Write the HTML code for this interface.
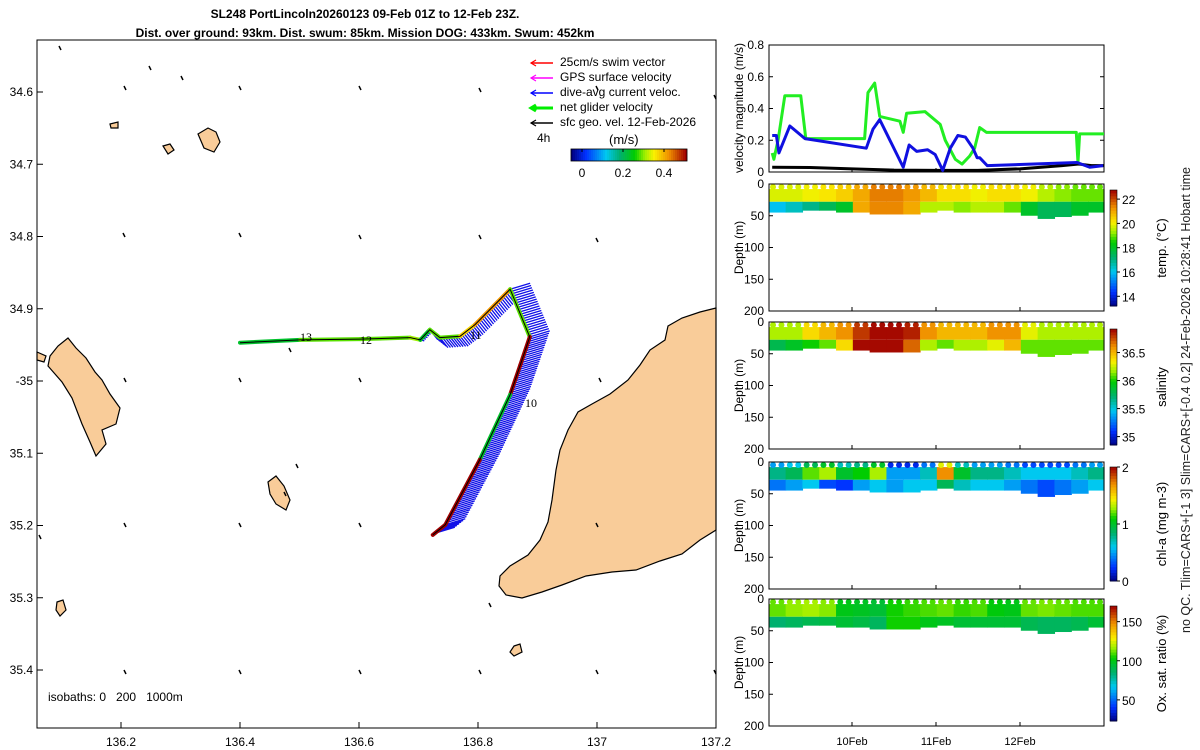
<!DOCTYPE html>
<html><head><meta charset="utf-8"><style>
body{margin:0;background:#fff;}
svg{display:block;font-family:"Liberation Sans","DejaVu Sans",sans-serif;}
</style></head><body>
<svg id="s" width="1200" height="750" viewBox="0 0 1200 750">
<text x="365" y="18" font-size="12" font-weight="bold" text-anchor="middle">SL248 PortLincoln20260123 09-Feb 01Z to 12-Feb 23Z.</text>
<text x="365" y="37" font-size="12" font-weight="bold" text-anchor="middle">Dist. over ground: 93km. Dist. swum: 85km. Mission DOG: 433km. Swum: 452km</text>
<g id="map"></g>
<g id="vel"></g>
<g id="sec"></g>
<text transform="translate(1190,400) rotate(-90)" font-size="12.5" text-anchor="middle" fill="#222">no QC. Tlim=CARS+[-1 3] Slim=CARS+[-0.4 0.2] 24-Feb-2026 10:28:41 Hobart time</text>
</svg>
<script>
const NS="http://www.w3.org/2000/svg";
function mk(p,t,a){const e=document.createElementNS(NS,t);for(const k in a)e.setAttribute(k,a[k]);p.appendChild(e);return e;}
function jet(f){f=Math.max(0,Math.min(1,f));const st=[[0,[0,0,128]],[0.12,[0,48,255]],[0.3,[0,200,240]],[0.42,[0,176,112]],[0.55,[0,204,0]],[0.64,[160,240,0]],[0.72,[250,240,0]],[0.85,[240,144,0]],[1,[160,0,0]]];
for(let i=1;i<st.length;i++){if(f<=st[i][0]){const a=st[i-1],b=st[i],u=(f-a[0])/(b[0]-a[0]);return "rgb("+a[1].map((v,j)=>Math.round(v+(b[1][j]-v)*u)).join(",")+")";}}return "rgb(160,0,0)";}

/* ---------- MAP ---------- */
const mapLonTicks=[136.2,136.4,136.6,136.8,137,137.2];
const mapLatTicks=[34.6,34.7,34.8,34.9,35,35.1,35.2,35.3,35.4];
const trackLon=[136.4,136.501,136.602,136.686,136.703,136.719,136.736,136.770,136.795,136.854,136.887,136.871,136.854,136.803,136.745,136.724];
const trackLat=[34.947,34.943,34.942,34.940,34.943,34.929,34.940,34.938,34.922,34.873,34.939,34.978,35.019,35.109,35.199,35.213];
const trackSpeed=[0.25,0.3,0.3,0.32,0.25,0.3,0.3,0.38,0.42,0.3,0.5,0.5,0.25,0.5,0.5,0.2];
const lx=l=>240+(l-136.4)*595, ly=l=>92+(l-34.6)*722.5;
const M=document.getElementById('map');
const landPolys=[
"716,308 700,312 682,318 668,326 665,340 650,350 640,365 628,380 610,394 592,404 578,412 568,430 560,450 556,470 552,500 548,522 540,540 528,555 510,566 500,576 499,586 506,595 522,598 542,592 562,585 586,576 612,572 636,570 660,561 682,554 700,540 716,530",
"50,356 58,346 68,338 76,348 86,358 95,372 102,380 110,394 120,408 116,424 102,430 106,444 96,456 90,442 82,424 72,398 62,382 48,366",
"37,352 46,356 44,362 37,360",
"268,482 276,476 284,486 290,500 286,510 276,504 270,494",
"198,134 208,128 216,132 220,142 214,152 204,148",
"163,146 170,144 174,150 168,154",
"110,124 118,122 118,128 111,128",
"514,646 520,644 522,652 514,656 510,652",
"57,602 63,600 66,610 60,616 56,610"];
landPolys.forEach((p,i)=>{const e=mk(M,'polygon',{points:p,fill:'#f9cc99',stroke:'#000','stroke-width':1.2});

});
const marks=[[125,88],[240,88],[360,88],[480,90],[597,88],[715,97],[124,235],[240,235],[360,237],[480,237],[597,240],[125,380],[240,380],[360,380],[600,380],[125,525],[240,525],[360,525],[597,525],[125,672],[240,672],[360,672],[480,672],[597,672],[715,672],[150,68],[182,78],[60,48],[490,605],[297,466],[285,494],[40,537],[290,350]];
marks.forEach(m=>{const e=mk(M,'path',{d:`M${m[0]-1},${m[1]-2}L${m[0]+1},${m[1]+2}`,stroke:'#000','stroke-width':1.5});

});
for(let i=0;i<trackLon.length-1;i++){
 const x0=lx(trackLon[i]),y0=ly(trackLat[i]),x1=lx(trackLon[i+1]),y1=ly(trackLat[i+1]);
 const n=Math.max(2,Math.round(Math.hypot(x1-x0,y1-y0)/2.5));
 const dx=i>=9?20:(i>=5?8:4), dy=i>=9?-6:(i>=5?10:1);
 for(let k=0;k<n;k++){const u=k/n,x=x0+(x1-x0)*u,y=y0+(y1-y0)*u;
  const e=mk(M,'line',{x1:x,y1:y,x2:x+dx,y2:y+dy,stroke:'#1010e8','stroke-width':1.3});
  
  }
}
for(let i=0;i<trackLon.length-1;i++){
 const e=mk(M,'line',{x1:lx(trackLon[i]),y1:ly(trackLat[i]),x2:lx(trackLon[i+1]),y2:ly(trackLat[i+1]),stroke:jet(trackSpeed[i]/0.5),'stroke-width':4,'stroke-linecap':'round'});
 
 
}
mk(M,'polyline',{points:trackLon.map((l,i)=>lx(l)+','+ly(trackLat[i])).join(' '),fill:'none',stroke:'#000','stroke-width':1});
[["13",300,341],["12",360,344],["11",470,339],["10",525,407]].forEach(t=>{const e=mk(M,'text',{x:t[1],y:t[2],'font-size':12,'font-family':'Liberation Serif'});e.textContent=t[0];

});
mk(M,'rect',{x:37,y:40,width:679,height:688,fill:'none',stroke:'#000','stroke-width':1});
mapLonTicks.forEach(l=>{const x=lx(l);mk(M,'line',{x1:x,y1:728,x2:x,y2:722,stroke:'#000'});
 const t=mk(M,'text',{x:x,y:746,'font-size':12,'text-anchor':'middle'});t.textContent=String(l);
 
 });
mapLatTicks.forEach(l=>{const y=ly(l);mk(M,'line',{x1:37,y1:y,x2:43,y2:y,stroke:'#000'});
 const t=mk(M,'text',{x:33,y:y+4,'font-size':12,'text-anchor':'end'});t.textContent=(l===35?'-35':(l.toFixed(1)));
 
 });
{const t=mk(M,'text',{x:48,y:701,'font-size':12,style:'white-space:pre'});t.textContent='isobaths: 0   200   1000m';

}
const legItems=[["25cm/s swim vector","#f00"],["GPS surface velocity","#f0f"],["dive-avg current veloc.","#00f"],["net glider velocity","#0e0"],["sfc geo. vel. 12-Feb-2026","#000"]];
legItems.forEach((it,i)=>{const y=62+i*15;
 mk(M,'line',{x1:531,y1:y+1,x2:553,y2:y+1,stroke:it[1],'stroke-width':i===3?3:1.5});
 mk(M,'path',{d:`M536,${y-2}L531,${y+1}L536,${y+4}`,fill:'none',stroke:it[1],'stroke-width':i===3?3:1.2});
 const t=mk(M,'text',{x:560,y:y+4,'font-size':12});t.textContent=it[0];
 
 });
{let t=mk(M,'text',{x:537,y:142,'font-size':12});t.textContent='4h';


t=mk(M,'text',{x:609,y:144,'font-size':13});t.textContent='(m/s)';

}
const speedTicks=[0,0.2,0.4];
for(let k=0;k<58;k++){mk(M,'rect',{x:571+k*2,y:149,width:2.2,height:12,fill:jet(k/57)});}
mk(M,'rect',{x:571,y:149,width:116,height:12,fill:'none',stroke:'#000','stroke-width':0.8});
speedTicks.forEach(v=>{const xx=582+v*205;
 mk(M,'line',{x1:xx,y1:149,x2:xx,y2:152,stroke:'#000'});
 const t=mk(M,'text',{x:xx,y:177,'font-size':12,'text-anchor':'middle'});t.textContent=String(v);
 
 });

/* ---------- VELOCITY ---------- */
const netDays=[9.05,9.07,9.12,9.20,9.39,9.45,10.15,10.19,10.27,10.33,10.57,10.61,10.65,10.87,11.05,11.11,11.23,11.31,11.40,11.46,11.52,11.60,12.67,12.69,12.71,13.0];
const netVel=[0.12,0.08,0.2,0.48,0.48,0.21,0.21,0.5,0.56,0.35,0.32,0.25,0.37,0.38,0.3,0.2,0.08,0.05,0.1,0.15,0.28,0.25,0.25,0.06,0.24,0.24];
const curDays=[9.05,9.10,9.13,9.26,9.44,10.17,10.25,10.33,10.61,10.68,10.77,10.90,10.99,11.08,11.17,11.26,11.35,11.44,11.49,11.52,11.61,12.68,12.83,12.99];
const curVel=[0.23,0.23,0.12,0.29,0.21,0.15,0.27,0.33,0.03,0.17,0.13,0.14,0.11,0.01,0.15,0.23,0.22,0.15,0.09,0.09,0.04,0.06,0.03,0.04];
const geoDays=[9.05,9.5,10.0,10.5,11.0,11.5,12.0,12.5,12.7,12.85,13.0];
const geoVel=[0.03,0.028,0.02,0.012,0.01,0.01,0.02,0.04,0.05,0.04,0.04];
const velTicks=[0,0.2,0.4,0.6,0.8];
const dayTicks=[10,11,12], dayLabels=["10Feb","11Feb","12Feb"];
const tx=d=>852+(d-10)*84;
const V=document.getElementById('vel');
const vy=v=>172-v/0.8*127;
mk(V,'rect',{x:769,y:45,width:335,height:127,fill:'none',stroke:'#000'});
velTicks.forEach(v=>{mk(V,'line',{x1:769,y1:vy(v),x2:773,y2:vy(v),stroke:'#000'});mk(V,'line',{x1:1104,y1:vy(v),x2:1100,y2:vy(v),stroke:'#000'});
 const t=mk(V,'text',{x:764,y:vy(v)+4,'font-size':12,'text-anchor':'end'});t.textContent=String(v);
 
 });
dayTicks.forEach(d=>{mk(V,'line',{x1:tx(d),y1:172,x2:tx(d),y2:168,stroke:'#000'});});
{const t=mk(V,'text',{transform:'translate(743,108) rotate(-90)','font-size':12,'text-anchor':'middle'});t.textContent='velocity magnitude (m/s)';

}
[[geoDays,geoVel,'#000','geo-velocity-line'],[netDays,netVel,'#22ee22','net-velocity-line'],[curDays,curVel,'#1010e0','current-velocity-line']].forEach(s=>{
 const e=mk(V,'polyline',{points:s[0].map((d,i)=>tx(d)+','+vy(s[1][i])).join(' '),fill:'none',stroke:s[2],'stroke-width':3,'stroke-linejoin':'round'});
 
 });

/* ---------- SECTIONS ---------- */
const binEdges=[9.01,9.21,9.41,9.61,9.81,10.01,10.21,10.41,10.61,10.81,11.01,11.21,11.41,11.61,11.81,12.01,12.21,12.41,12.61,12.81,13.0];
const bottomDepth=[45,45,42,42,45,45,48,48,48,45,42,45,45,45,45,50,55,52,50,45];
const tempSurf=[19.8,19.8,20,20.2,20.5,21,21.5,21.5,21.2,20.8,20.3,20.3,20,20.3,20.3,20,19.5,19.2,19,19];
const tempDeep=[16,16.5,17,17.5,18,21,21.4,21.4,21,19.5,19.5,19.2,19.5,19.5,19,18,17.5,17.5,18,18];
const salSurf=[36.2,36.2,36.4,36.5,36.6,36.8,36.9,36.9,36.85,36.6,36.5,36.5,36.5,36.6,36.6,36.3,36.2,36.2,36.2,36.2];
const salDeep=[35.8,35.9,36,36.1,36.4,36.9,36.9,36.9,36.7,36.2,36.1,36.2,36.2,36.3,36.5,36.1,36.1,36.1,36.1,36.1];
const chlSurf=[0.8,0.9,1.2,1.3,1.0,1.1,1.3,0.5,0.5,0.7,1.7,1.0,0.8,0.8,0.7,0.6,0.6,0.6,0.7,0.8];
const chlDeep=[0.4,0.5,0.6,0.3,0.25,0.5,0.6,0.5,0.6,0.6,0.9,0.7,0.6,0.6,0.5,0.4,0.3,0.4,0.5,0.6];
const oxSurf=[112,116,118,115,100,98,95,105,108,110,112,108,110,102,100,112,114,112,110,110];
const oxDeep=[85,88,90,92,95,92,88,105,105,100,98,95,95,95,95,90,88,88,90,95];
const depthTicks=[0,50,100,150,200];
const tempTicks=[14,16,18,20,22], salTicks=[35,35.5,36,36.5], chlTicks=[0,1,2], oxTicks=[50,100,150];
const panels=[
 {top:184,name:'temp',surf:tempSurf,deep:tempDeep,lo:13.2,hi:22.75,ticks:tempTicks,label:'temp. (°C)',cb:[190,306]},
 {top:322,name:'salinity',surf:salSurf,deep:salDeep,lo:34.85,hi:36.92,ticks:salTicks,label:'salinity',cb:[329,445]},
 {top:462,name:'chl',surf:chlSurf,deep:chlDeep,lo:0,hi:2,ticks:chlTicks,label:'chl-a (mg m-3)',cb:[467,581]},
 {top:599,name:'oxygen',surf:oxSurf,deep:oxDeep,lo:23,hi:170,ticks:oxTicks,label:'Ox. sat. ratio (%)',cb:[606,721]}];
const S=document.getElementById('sec');
panels.forEach((p,pi)=>{
 const H=127, dy=d=>p.top+d/200*H, f=v=>(v-p.lo)/(p.hi-p.lo);
 const g=mk(S,'g',{});
 
 
 for(let i=0;i<p.surf.length;i++){
  const x0=tx(binEdges[i]),x1=tx(binEdges[i+1]);
  mk(g,'rect',{x:x0,y:dy(8),width:x1-x0+0.6,height:dy(28)-dy(8),fill:jet(f(p.surf[i]))});
  mk(g,'rect',{x:x0,y:dy(28),width:x1-x0+0.6,height:dy(bottomDepth[i])-dy(28),fill:jet(f(p.deep[i]))});
 }
 for(let i=0;i<p.surf.length;i++){
  const x0=tx(binEdges[i]),x1=tx(binEdges[i+1]);
  [0.25,0.75].forEach(u=>{const c=mk(g,'circle',{cx:x0+(x1-x0)*u,cy:p.top+3,r:3,fill:jet(f(p.surf[i]+(pi==2?-0.3:0)))});
   
   });
 }
 mk(g,'rect',{x:769,y:p.top,width:335,height:H,fill:'none',stroke:'#000'});
 depthTicks.forEach(d=>{mk(g,'line',{x1:769,y1:dy(d),x2:773,y2:dy(d),stroke:'#000'});
  const t=mk(g,'text',{x:764,y:dy(d)+4,'font-size':12,'text-anchor':'end'});t.textContent=String(d);
  
  });
 dayTicks.forEach(d=>{mk(g,'line',{x1:tx(d),y1:p.top+H,x2:tx(d),y2:p.top+H-4,stroke:'#000'});});
 {const t=mk(g,'text',{transform:`translate(743,${p.top+H/2}) rotate(-90)`,'font-size':12,'text-anchor':'middle'});t.textContent='Depth (m)';
  
  }
 const c0=p.cb[0],c1=p.cb[1],n=40;
 for(let k=0;k<n;k++){mk(g,'rect',{x:1110,y:c1-(k+1)*(c1-c0)/n,width:7,height:(c1-c0)/n+0.5,fill:jet((k+0.5)/n)});}
 mk(g,'rect',{x:1110,y:c0,width:7,height:c1-c0,fill:'none',stroke:'#000','stroke-width':0.6});
 const cy=v=>c1-(v-p.lo)/(p.hi-p.lo)*(c1-c0);
 p.ticks.forEach(v=>{mk(g,'line',{x1:1117,y1:cy(v),x2:1120,y2:cy(v),stroke:'#000'});
  const t=mk(g,'text',{x:1122,y:cy(v)+5,'font-size':12});t.textContent=String(v);
  
  });
 {const t=mk(g,'text',{transform:`translate(1166,${(c0+c1)/2}) rotate(-90)`,'font-size':13,'text-anchor':'middle'});t.textContent=p.label;
  
  }
});
dayTicks.forEach((d,i)=>{const t=mk(S,'text',{x:tx(d),y:745,'font-size':11,'text-anchor':'middle'});t.textContent=dayLabels[i];
 
 });
</script>
</body></html>
